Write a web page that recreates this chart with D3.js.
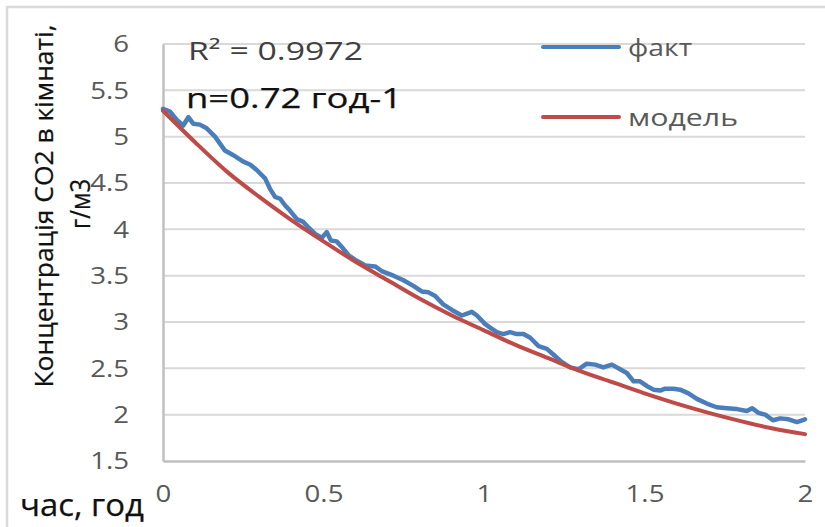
<!DOCTYPE html>
<html>
<head>
<meta charset="utf-8">
<script src="https://cdn.jsdelivr.net/npm/d3@7"></script>
<style>
  html, body { margin: 0; padding: 0; background: #fff; }
  svg { display: block; font-family: "Open Sans", sans-serif; }
</style>
</head>
<body>
<svg id="chart"></svg>
<script>
var factT = [0, 0.022, 0.043, 0.063, 0.079, 0.094, 0.115, 0.136, 0.162, 0.193, 0.219, 0.250, 0.271, 0.292, 0.318, 0.333,
  0.349, 0.365, 0.380, 0.396, 0.417, 0.437, 0.453, 0.474, 0.495, 0.510, 0.523, 0.541, 0.557, 0.578, 0.604, 0.630, 0.661,
  0.681, 0.718, 0.749, 0.780, 0.806, 0.827, 0.848, 0.873, 0.900, 0.931, 0.962, 0.978, 1.003, 1.019, 1.040, 1.060, 1.081,
  1.102, 1.123, 1.144, 1.170, 1.196, 1.216, 1.242, 1.268, 1.294, 1.320, 1.346, 1.372, 1.398, 1.424, 1.445, 1.466, 1.486,
  1.507, 1.528, 1.549, 1.564, 1.590, 1.611, 1.637, 1.663, 1.694, 1.725, 1.757, 1.788, 1.819, 1.835, 1.855, 1.876, 1.900,
  1.923, 1.949, 1.975, 2.0];
var factC = [5.30, 5.27, 5.18, 5.12, 5.21, 5.14, 5.13, 5.09, 5.00, 4.85, 4.80, 4.73, 4.70, 4.64, 4.55, 4.44,
  4.35, 4.33, 4.26, 4.20, 4.11, 4.08, 4.02, 3.95, 3.91, 3.97, 3.88, 3.87, 3.81, 3.72, 3.66, 3.61, 3.60,
  3.55, 3.50, 3.45, 3.39, 3.33, 3.32, 3.28, 3.19, 3.13, 3.07, 3.11, 3.07, 2.98, 2.94, 2.89, 2.87, 2.89,
  2.87, 2.87, 2.83, 2.74, 2.71, 2.65, 2.57, 2.51, 2.49, 2.55, 2.54, 2.51, 2.54, 2.49, 2.45, 2.36, 2.36,
  2.31, 2.27, 2.26, 2.28, 2.28, 2.27, 2.23, 2.17, 2.12, 2.08, 2.07, 2.06, 2.04, 2.07, 2.02, 2.00, 1.94,
  1.96, 1.95, 1.92, 1.95];

var modelT = [0, 0.1, 0.2, 0.3, 0.4, 0.5, 0.6, 0.7, 0.8, 0.9, 1.0, 1.1, 1.2, 1.3, 1.4, 1.5, 1.6, 1.7, 1.8, 1.9, 2.0];
var modelC = [5.28, 4.94, 4.62, 4.35, 4.10, 3.87, 3.65, 3.45, 3.25, 3.07, 2.91, 2.75, 2.61, 2.47, 2.35, 2.23, 2.12,
  2.02, 1.93, 1.85, 1.79];

var xTicks = [0, 0.5, 1, 1.5, 2];
var yTicks = [1.5, 2, 2.5, 3, 3.5, 4, 4.5, 5, 5.5, 6];

var seriesNames = ['факт', 'модель'];
var seriesColors = ['#4a7ebb', '#be4b48'];

var width = 825, height = 527;

var svg = d3.select('#chart').attr('width', width).attr('height', height);

// outer chart frame
svg.append('rect')
  .attr('x', 7).attr('y', 7)
  .attr('width', 840).attr('height', 540)
  .attr('fill', 'none')
  .attr('stroke', '#d9d9d9')
  .attr('stroke-width', 2.5);

var x = d3.scaleLinear().domain([0, 2]).range([163, 805]);
var y = d3.scaleLinear().domain([1.5, 6]).range([461, 44]);

// stretch text horizontally, the source picture is wider than normal type
function widen(sel, k){
  sel.each(function(){
    var w = this.getComputedTextLength();
    d3.select(this).attr('textLength', w * k).attr('lengthAdjust', 'spacingAndGlyphs');
  });
}
function fitTo(sel, w){
  return sel.attr('textLength', w).attr('lengthAdjust', 'spacingAndGlyphs');
}
// slightly heavier dark text
function heavy(sel){
  return sel.attr('stroke', '#111').attr('stroke-width', 0.25);
}

// gridlines
svg.append('g')
  .selectAll('line')
  .data(yTicks.slice(1))
  .enter()
    .append('line')
    .attr('x1', x(0)).attr('x2', x(2))
    .attr('y1', function(d){ return y(d); })
    .attr('y2', function(d){ return y(d); })
    .attr('stroke', '#d9d9d9')
    .attr('stroke-width', 2);

var yAxis = svg.append('g')
  .attr('transform', 'translate(' + x(0) + ',0)')
  .call(d3.axisLeft(y).tickValues(yTicks).tickFormat(d3.format('')).tickSize(0).tickSizeOuter(0).tickPadding(34));

var xAxis = svg.append('g')
  .attr('transform', 'translate(0,' + y(1.5) + ')')
  .call(d3.axisBottom(x).tickValues(xTicks).tickFormat(d3.format('')).tickSize(0).tickSizeOuter(0).tickPadding(24));

[yAxis, xAxis].forEach(function(ax){
  ax.attr('font-family', null).attr('font-size', null);
  ax.select('.domain').attr('stroke', '#bfbfbf').attr('stroke-width', 2.5);
  ax.selectAll('text').attr('fill', '#595959').style('font-size', '24px');
  widen(ax.selectAll('text'), 1.15);
});

var line = d3.line()
  .x(function(d){ return x(d[0]); })
  .y(function(d){ return y(d[1]); });

var factData = factT.map(function(t, i){ return [t, factC[i]]; });
var modelData = modelT.map(function(t, i){ return [t, modelC[i]]; });

svg.append('path')
  .datum(factData)
  .attr('d', line.curve(d3.curveLinear))
  .attr('fill', 'none')
  .attr('stroke', seriesColors[0])
  .attr('stroke-width', 4.5)
  .attr('stroke-linejoin', 'round')
  .attr('stroke-linecap', 'round');

svg.append('path')
  .datum(modelData)
  .attr('d', line.curve(d3.curveMonotoneX))
  .attr('fill', 'none')
  .attr('stroke', seriesColors[1])
  .attr('stroke-width', 4)
  .attr('stroke-linecap', 'round');

// legend
var legend = svg.append('g')
  .selectAll('g')
  .data(seriesNames)
  .enter()
    .append('g')
    .attr('transform', function(d, i){ return 'translate(543,' + (47 + i * 70) + ')'; });

legend.append('line')
  .attr('x1', 0).attr('x2', 76)
  .attr('stroke', function(d, i){ return seriesColors[i]; })
  .attr('stroke-width', 4)
  .attr('stroke-linecap', 'round');

legend.append('text')
  .attr('x', 85).attr('y', 9)
  .attr('fill', '#595959')
  .style('font-size', '24px')
  .text(function(d){ return d; })
  .each(function(d, i){ fitTo(d3.select(this), i ? 110 : 64); });

// annotations
fitTo(svg.append('text')
  .attr('x', 188).attr('y', 60)
  .attr('fill', '#404040')
  .style('font-size', '26px')
  .text('R² = 0.9972'), 175);

heavy(fitTo(svg.append('text')
  .attr('x', 186).attr('y', 108)
  .attr('fill', '#111')
  .style('font-size', '27px')
  .text('n=0.72 год-1'), 216));

// axis titles
heavy(fitTo(svg.append('text')
  .attr('x', 20).attr('y', 516)
  .attr('fill', '#111')
  .style('font-size', '31px')
  .text('час, год'), 124));

var yTitle = svg.append('g').attr('transform', 'translate(0,206) rotate(-90)');
heavy(fitTo(yTitle.append('text')
  .attr('x', 0).attr('y', 53)
  .attr('text-anchor', 'middle')
  .attr('fill', '#111')
  .style('font-size', '25px')
  .text('Концентрація СО2 в кімнаті,'), 363));
heavy(fitTo(yTitle.append('text')
  .attr('x', 2).attr('y', 90)
  .attr('text-anchor', 'middle')
  .attr('fill', '#111')
  .style('font-size', '28px')
  .text('г/м3'), 50));
</script>
</body>
</html>
